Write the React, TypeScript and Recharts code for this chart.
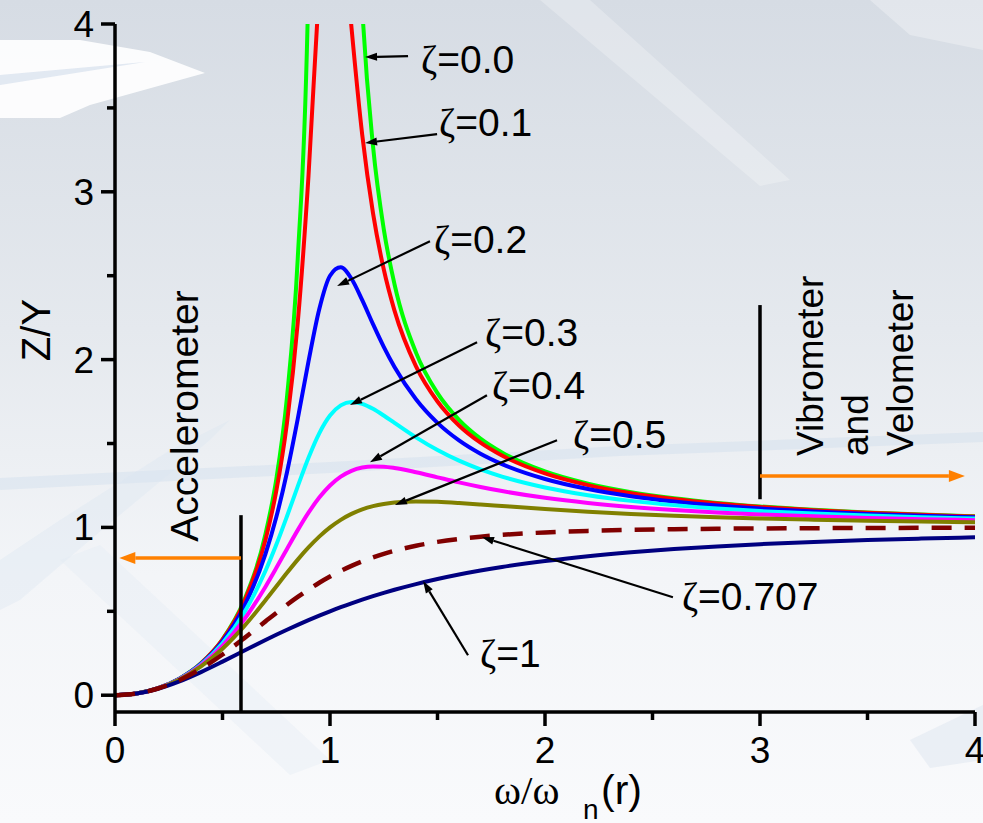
import React from "react";
import { LineChart, Line, XAxis, YAxis, ReferenceLine } from "recharts";

// frequency ratio r = w/wn
const ratio = [
  0, 0.1, 0.2, 0.3, 0.4, 0.5, 0.6, 0.7, 0.75, 0.8, 0.85, 0.9, 0.95, 1.0, 1.05, 1.1, 1.15, 1.2,
  1.25, 1.3, 1.4, 1.5, 1.6, 1.7, 1.8, 2.0, 2.2, 2.4, 2.6, 2.8, 3.0, 3.25, 3.5, 3.75, 4.0,
];

// Z/Y
const zeta00 = [
  0, 0.0101, 0.0417, 0.0989, 0.1905, 0.3333, 0.5625, 0.9608, 1.2857, 1.7778, 2.6036, 4.2632, 9.2564, null,
  10.756, 5.7619, 4.1008, 3.2727, 2.7778, 2.4493, 2.0417, 1.8, 1.641, 1.5291, 1.4464, 1.3333, 1.2604,
  1.2101, 1.1736, 1.1462, 1.125, 1.1046, 1.0889, 1.0766, 1.0667,
];
const zeta01 = [
  0, 0.0101, 0.0416, 0.0987, 0.1896, 0.3304, 0.5528, 0.9265, 1.2162, 1.6244, 2.2203, 3.0951, 4.226, 5.0,
  4.718, 3.9784, 3.3387, 2.8731, 2.5384, 2.292, 1.96, 1.7503, 1.6075, 1.505, 1.4281, 1.3217, 1.2522,
  1.204, 1.1689, 1.1424, 1.1218, 1.102, 1.0868, 1.0748, 1.0652,
];
const zeta02 = [
  0, 0.01, 0.0415, 0.0981, 0.1871, 0.3221, 0.5267, 0.8422, 1.0603, 1.3287, 1.6462, 1.9897, 2.3005, 2.5,
  2.5501, 2.4818, 2.3541, 2.2115, 2.0761, 1.956, 1.7635, 1.6227, 1.5182, 1.4388, 1.377, 1.2883, 1.2286,
  1.1862, 1.1549, 1.1311, 1.1126, 1.0945, 1.0806, 1.0695, 1.0607,
];
const zeta03 = [
  0, 0.01, 0.0413, 0.097, 0.1832, 0.3095, 0.4903, 0.7416, 0.8962, 1.0667, 1.2444, 1.4149, 1.5607, 1.6667,
  1.7273, 1.7471, 1.7364, 1.7066, 1.6667, 1.6228, 1.5365, 1.4608, 1.3976, 1.3456, 1.3029, 1.238, 1.192,
  1.1582, 1.1328, 1.1131, 1.0976, 1.0823, 1.0704, 1.0609, 1.0533,
];
const zeta04 = [
  0, 0.01, 0.0411, 0.0956, 0.178, 0.2941, 0.45, 0.6469, 0.7575, 0.8716, 0.9838, 1.0877, 1.1778, 1.25,
  1.3028, 1.3374, 1.3566, 1.3636, 1.3618, 1.3541, 1.3287, 1.2985, 1.2686, 1.2412, 1.2167, 1.1765, 1.1458,
  1.1222, 1.1038, 1.0893, 1.0776, 1.0659, 1.0566, 1.0492, 1.0432,
];
const zeta05 = [
  0, 0.01, 0.0408, 0.0939, 0.172, 0.2774, 0.4104, 0.5658, 0.6478, 0.7295, 0.8081, 0.8806, 0.945, 1.0,
  1.045, 1.0805, 1.1073, 1.1266, 1.1399, 1.1483, 1.1546, 1.1523, 1.1456, 1.1369, 1.1275, 1.1094, 1.0936,
  1.0805, 1.0697, 1.0608, 1.0534, 1.0458, 1.0397, 1.0348, 1.0307,
];
const zeta0707 = [
  0, 0.01, 0.04, 0.0896, 0.158, 0.2425, 0.3387, 0.44, 0.4903, 0.539, 0.5856, 0.6294, 0.67, 0.7071, 0.7407,
  0.7708, 0.7976, 0.8214, 0.8423, 0.8606, 0.8908, 0.9138, 0.9315, 0.945, 0.9555, 0.9701, 0.9793, 0.9853,
  0.9892, 0.992, 0.9939, 0.9955, 0.9967, 0.9975, 0.9981,
];
const zeta10 = [
  0, 0.0099, 0.0385, 0.0826, 0.1379, 0.2, 0.2647, 0.3289, 0.36, 0.3902, 0.4194, 0.4475, 0.4744, 0.5,
  0.5244, 0.5475, 0.5694, 0.5902, 0.6098, 0.6283, 0.6622, 0.6923, 0.7191, 0.7429, 0.7642, 0.8, 0.8288,
  0.8521, 0.8711, 0.8869, 0.9, 0.9135, 0.9245, 0.9336, 0.9412,
];

const xTicks = [0, 0.5, 1, 1.5, 2, 2.5, 3, 3.5, 4];
const yTicks = [0, 0.5, 1, 1.5, 2, 2.5, 3, 3.5, 4];

// annotation labels: arrow tail / head in data units
const zetaLabels = ["0.0", "0.1", "0.2", "0.3", "0.4", "0.5", "0.707", "1"];
const labelTail = [
  [1.363, 3.809], [1.498, 3.344], [1.465, 2.706], [1.684, 2.104],
  [1.73, 1.788], [2.056, 1.52], [2.595, 0.584], [1.642, 0.238],
];
const labelHead = [
  [1.163, 3.803], [1.163, 3.291], [1.033, 2.438], [1.093, 1.729],
  [1.186, 1.389], [1.302, 1.133], [1.707, 0.942], [1.433, 0.68],
];
const labelShift = [[13, 17], [2, 2], [4, 12], [8, 4], [5, 4], [16, 8], [9, 13], [12, 12]];

// accelerometer / vibrometer region limits
const accelR = 0.586;
const vibroR = 3.0;

const SANS = "'Liberation Sans', Arial, Helvetica, sans-serif";
const SERIF = "'Liberation Serif', 'Times New Roman', serif";

const data = ratio.map((r, i) => ({
  r,
  z00: zeta00[i],
  z01: zeta01[i],
  z02: zeta02[i],
  z03: zeta03[i],
  z04: zeta04[i],
  z05: zeta05[i],
  z10: zeta10[i],
  z0707: zeta0707[i],
}));

const series = [
  { key: "z00", color: "#00ff00" },
  { key: "z01", color: "#ff0000" },
  { key: "z02", color: "#0000ff" },
  { key: "z03", color: "#00ffff" },
  { key: "z04", color: "#ff00ff" },
  { key: "z05", color: "#808000" },
  { key: "z10", color: "#000080" },
  { key: "z0707", color: "#800000", dash: "20 13" },
];

const XTick = (props: any) => {
  const { x, y, payload } = props;
  const major = Number.isInteger(payload.value);
  return (
    <g>
      <line x1={x} y1={y} x2={x} y2={y + (major ? 14 : 8)} stroke="#000" strokeWidth={3.5} />
      {major && (
        <text x={x} y={y + 51} textAnchor="middle" fontSize={37} fontFamily={SANS} fill="#000">
          {payload.value}
        </text>
      )}
    </g>
  );
};

const YTick = (props: any) => {
  const { x, y, payload } = props;
  const major = Number.isInteger(payload.value);
  return (
    <g>
      <line x1={x} y1={y} x2={x - (major ? 14 : 8)} y2={y} stroke="#000" strokeWidth={3.5} />
      {major && (
        <text x={x - 21} y={y + 13} textAnchor="end" fontSize={37} fontFamily={SANS} fill="#000">
          {payload.value}
        </text>
      )}
    </g>
  );
};

function arrowShape(color: string, width: number, head: number, wide: number, text?: string, dx = 0, dy = 0) {
  return (p: any) => {
    const { x1, y1, x2, y2 } = p;
    const a = Math.atan2(y2 - y1, x2 - x1);
    const bx = x2 - head * Math.cos(a);
    const by = y2 - head * Math.sin(a);
    const pts = `${x2},${y2} ${bx - wide * Math.sin(a)},${by + wide * Math.cos(a)} ${bx + wide * Math.sin(a)},${by - wide * Math.cos(a)}`;
    return (
      <g>
        <line x1={x1} y1={y1} x2={bx} y2={by} stroke={color} strokeWidth={width} />
        <polygon points={pts} fill={color} />
        {text && (
          <text x={x1 + dx} y={y1 + dy} fontSize={39} fontFamily={SANS} fill="#000">
            <tspan fontFamily={SERIF}>ζ</tspan>={text}
          </text>
        )}
      </g>
    );
  };
}

const Background = () => (
  <svg width={983} height={823} style={{ position: "absolute", left: 0, top: 0 }}>
    <defs>
      <linearGradient id="bg" x1="0" y1="0" x2="0" y2="1">
        <stop offset="0%" stopColor="#d6dce4" />
        <stop offset="40%" stopColor="#e5e9ee" />
        <stop offset="70%" stopColor="#f3f5f8" />
        <stop offset="100%" stopColor="#f9fafc" />
      </linearGradient>
    </defs>
    <rect width={983} height={823} fill="url(#bg)" />
    <polygon points="0,40 80,40 150,52 205,73 90,105 60,118 0,118" fill="#ffffff" opacity={0.9} />
    <polygon points="0,75 145,62 0,85" fill="#c8d6e8" opacity={0.5} />
    <polygon points="540,0 590,0 790,180 760,186" fill="#ffffff" opacity={0.25} />
    <polygon points="870,0 983,0 983,50 910,35" fill="#ffffff" opacity={0.3} />
    <polygon points="0,478 330,462 620,446 983,432 983,442 620,456 330,473 0,490" fill="#c9d9ea" opacity={0.35} />
    <polygon points="0,560 60,520 170,450 230,420 210,440 90,540 20,600 0,610" fill="#d9e4f0" opacity={0.35} />
    <polygon points="60,560 100,545 330,760 290,775" fill="#e2eaf3" opacity={0.35} />
    <polygon points="910,740 983,705 983,760 930,768" fill="#dde6f0" opacity={0.5} />
  </svg>
);

export default function App() {
  return (
    <div style={{ position: "absolute", left: 0, top: 0, width: 983, height: 823, overflow: "hidden" }}>
      <Background />
      <div style={{ position: "absolute", left: 0, top: 0 }}>
        <LineChart width={983} height={823} data={data} margin={{ top: 24, right: 8, left: 0, bottom: 0 }}>
          <XAxis
            dataKey="r"
            type="number"
            domain={[0, 4]}
            ticks={xTicks}
            interval={0}
            allowDataOverflow
            height={111}
            tickSize={0}
            tickMargin={0}
            tickLine={false}
            tick={XTick}
            stroke="#000"
            strokeWidth={3.5}
            axisLine={{ stroke: "#000", strokeWidth: 3.5 }}
            label={() => (
              <text y={804} fontSize={41} fontFamily={SANS} fill="#000">
                <tspan x={494} fontFamily={SERIF}>ω/ω</tspan>
                <tspan x={583} y={819} fontSize={28}>n</tspan>
                <tspan x={601} y={804}>(r)</tspan>
              </text>
            )}
          />
          <XAxis
            xAxisId="top"
            orientation="top"
            dataKey="r"
            type="number"
            domain={[0, 4]}
            height={0}
            tick={false}
            tickLine={false}
            stroke="#000"
            strokeWidth={3.5}
            axisLine={{ stroke: "#000", strokeWidth: 3.5 }}
          />
          <YAxis
            type="number"
            domain={[-0.1, 4]}
            ticks={yTicks}
            interval={0}
            allowDataOverflow
            width={115}
            tickSize={0}
            tickMargin={0}
            tickLine={false}
            tick={YTick}
            stroke="#000"
            strokeWidth={3.5}
            axisLine={{ stroke: "#000", strokeWidth: 3.5 }}
            label={() => (
              <text
                x={50}
                y={330}
                transform="rotate(-90 50 330)"
                textAnchor="middle"
                fontSize={40}
                fontFamily={SANS}
                fill="#000"
              >
                Z/Y
              </text>
            )}
          />
          <YAxis
            yAxisId="right"
            orientation="right"
            type="number"
            domain={[-0.1, 4]}
            width={0}
            tick={false}
            tickLine={false}
            stroke="#000"
            strokeWidth={3.5}
            axisLine={{ stroke: "#000", strokeWidth: 3.5 }}
          />
          {series.map((s) => (
            <Line
              key={s.key}
              dataKey={s.key}
              type="monotone"
              stroke={s.color}
              strokeWidth={s.dash ? 4.5 : 4}
              strokeDasharray={s.dash}
              dot={false}
              activeDot={false}
              connectNulls={false}
              isAnimationActive={false}
            />
          ))}

          <ReferenceLine
            segment={[{ x: accelR, y: -0.1 }, { x: accelR, y: 1.073 }]}
            stroke="#000"
            strokeWidth={3.5}
            ifOverflow="visible"
          />
          <ReferenceLine
            segment={[{ x: accelR, y: 0.817 }, { x: 0.02, y: 0.817 }]}
            ifOverflow="visible"
            shape={arrowShape("#ff8000", 3.5, 16, 6)}
          />
          <ReferenceLine
            segment={[{ x: vibroR, y: 1.168 }, { x: vibroR, y: 2.325 }]}
            stroke="#000"
            strokeWidth={3.5}
            ifOverflow="visible"
          />
          <ReferenceLine
            segment={[{ x: vibroR, y: 1.306 }, { x: 3.953, y: 1.306 }]}
            ifOverflow="visible"
            shape={arrowShape("#ff8000", 3.5, 16, 6)}
          />
          {zetaLabels.map((t, i) => (
            <ReferenceLine
              key={t}
              segment={[
                { x: labelTail[i][0], y: labelTail[i][1] },
                { x: labelHead[i][0], y: labelHead[i][1] },
              ]}
              ifOverflow="visible"
              shape={arrowShape("#000", 2.2, 12, 4, t, labelShift[i][0], labelShift[i][1])}
            />
          ))}
        </LineChart>
        <svg width={983} height={823} style={{ position: "absolute", left: 0, top: 0, pointerEvents: "none" }}>
          <text x={198} y={416} transform="rotate(-90 198 416)" textAnchor="middle" fontSize={39} fontFamily={SANS} fill="#000">
            Accelerometer
          </text>
          <text x={823} y={456} transform="rotate(-90 823 456)" fontSize={37} fontFamily={SANS} fill="#000">
            Vibrometer
          </text>
          <text x={868} y={456} transform="rotate(-90 868 456)" fontSize={37} fontFamily={SANS} fill="#000">
            and
          </text>
          <text x={913} y={456} transform="rotate(-90 913 456)" fontSize={37} fontFamily={SANS} fill="#000">
            Velometer
          </text>
        </svg>
      </div>
    </div>
  );
}
